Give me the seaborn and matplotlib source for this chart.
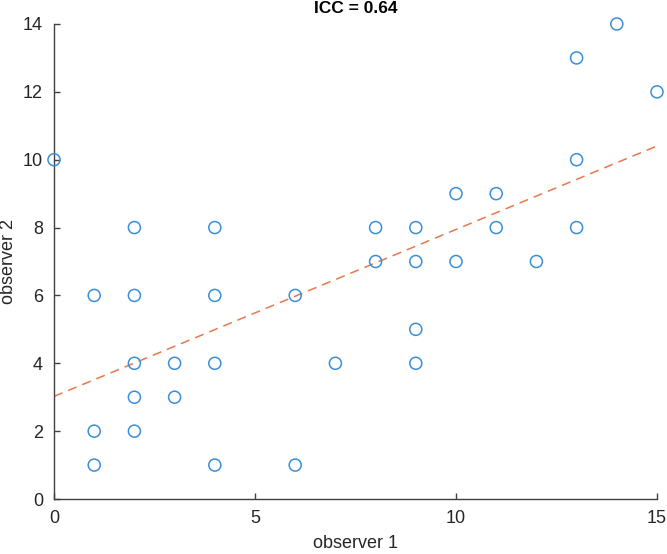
import numpy as np
import pandas as pd
import seaborn as sns
import matplotlib.pyplot as plt

observer_1 = [0, 1, 1, 1, 2, 2, 2, 2, 2, 3, 3, 4, 4, 4, 4, 6, 6, 7, 8, 8,
              9, 9, 9, 9, 10, 10, 11, 11, 12, 13, 13, 13, 14, 15]
observer_2 = [10, 6, 2, 1, 8, 6, 4, 3, 2, 4, 3, 8, 6, 4, 1, 6, 1, 4, 8, 7,
              8, 7, 5, 4, 9, 7, 9, 8, 7, 13, 10, 8, 14, 12]
icc_value = 0.64

x_ticks = [0, 5, 10, 15]
y_ticks = [0, 2, 4, 6, 8, 10, 12, 14]

data = pd.DataFrame({"observer 1": observer_1, "observer 2": observer_2})

sns.set_style("white")
plt.rcParams['font.family'] = ['Liberation Sans', 'DejaVu Sans']

fig = plt.figure(figsize=(6.67, 5.54), dpi=100)
ax = fig.add_axes([54 / 667, 55 / 554, 603 / 667, 475 / 554])

sns.scatterplot(data=data, x="observer 1", y="observer 2", ax=ax,
                marker="o", s=75, facecolors="none", edgecolor="#3A8FD9",
                linewidth=1.1, clip_on=False, zorder=3)

## least squares line across the x range...
slope, intercept = np.polyfit(data["observer 1"], data["observer 2"], 1)
xs = np.array([0, 15])
sns.lineplot(x=xs, y=slope * xs + intercept, ax=ax, color="#E5794B",
             linestyle=(0, (6, 4)), linewidth=1.1)

ax.set_xlim(0, 15)
ax.set_ylim(0, 14)
ax.set_xticks(x_ticks)
ax.set_yticks(y_ticks)

for side in ["top", "right"]:
    ax.spines[side].set_visible(False)
for side in ["left", "bottom"]:
    ax.spines[side].set_color("#404040")
    ax.spines[side].set_linewidth(1.0)

ax.tick_params(bottom=True, left=True, direction="in", length=4, width=1.0,
               color="#404040", labelcolor="#262626", labelsize=13, pad=8)
ax.set_xlabel("observer 1", fontsize=13, color="#262626", labelpad=6)
ax.set_ylabel("observer 2", fontsize=13, color="#262626", labelpad=4)
ax.set_title("ICC = %.2f" % icc_value, fontsize=12.5, fontweight="bold",
             color="black", pad=8)

plt.savefig("out.png", dpi=100)
plt.close()
